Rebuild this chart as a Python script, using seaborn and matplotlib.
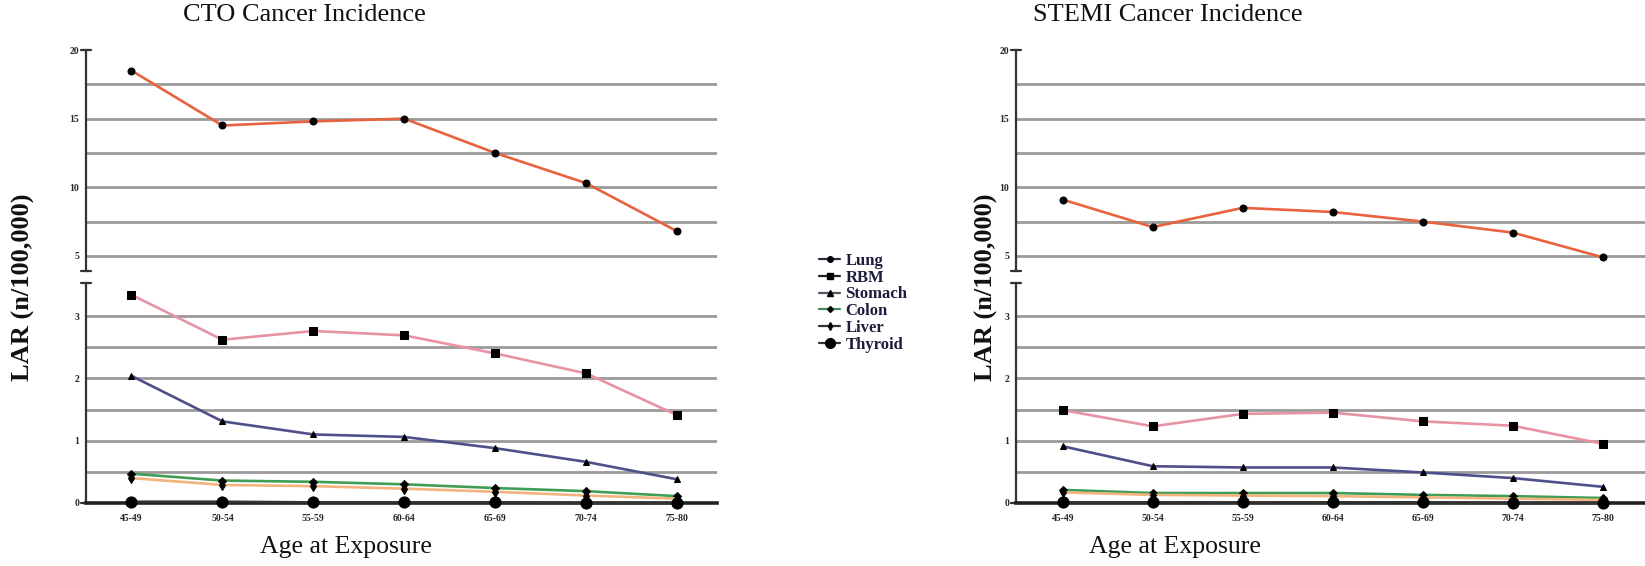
import numpy as np
import pandas as pd
import matplotlib
matplotlib.use("Agg")
import matplotlib.pyplot as plt
from matplotlib.lines import Line2D
import seaborn as sns

# age groups and organs
ages = ["45-49", "50-54", "55-59", "60-64", "65-69", "70-74", "75-80"]
organs = ["Lung", "RBM", "Stomach", "Colon", "Liver", "Thyroid"]

# CTO values (LAR per 100,000)
cto_lung = [18.5, 14.5, 14.8, 15.0, 12.5, 10.3, 6.8]
cto_rbm = [3.34, 2.62, 2.76, 2.69, 2.40, 2.08, 1.41]
cto_stomach = [2.04, 1.31, 1.10, 1.06, 0.88, 0.66, 0.38]
cto_colon = [0.47, 0.36, 0.34, 0.30, 0.24, 0.19, 0.11]
cto_liver = [0.40, 0.29, 0.27, 0.23, 0.18, 0.12, 0.07]
cto_thyroid = [0.02, 0.02, 0.01, 0.01, 0.01, 0.00, 0.00]

# STEMI values
stemi_lung = [9.1, 7.1, 8.5, 8.2, 7.5, 6.7, 4.9]
stemi_rbm = [1.49, 1.23, 1.43, 1.45, 1.31, 1.24, 0.95]
stemi_stomach = [0.91, 0.59, 0.57, 0.57, 0.49, 0.40, 0.26]
stemi_colon = [0.21, 0.16, 0.16, 0.16, 0.13, 0.11, 0.08]
stemi_liver = [0.17, 0.13, 0.12, 0.11, 0.09, 0.07, 0.05]
stemi_thyroid = [0.01, 0.01, 0.01, 0.01, 0.01, 0.00, 0.00]

colors = {"Lung": "#e8623e", "RBM": "#e793a4", "Stomach": "#4f4f8c",
          "Colon": "#3f9d55", "Liver": "#f2b47c", "Thyroid": "#333333"}
legend_colors = {"Lung": "#2a2a40", "RBM": "#222222", "Stomach": "#555566",
                 "Colon": "#3f8d55", "Liver": "#333333", "Thyroid": "#333333"}
markers = {"Lung": "o", "RBM": "s", "Stomach": "^", "Colon": "D", "Liver": "d", "Thyroid": "o"}
msizes = {"Lung": 5, "RBM": 6, "Stomach": 5, "Colon": 4, "Liver": 5, "Thyroid": 8}


def make_df(vals):
    rows = []
    for organ, v in zip(organs, vals):
        for a, y in zip(ages, v):
            rows.append({"age": a, "organ": organ, "lar": y})
    return pd.DataFrame(rows)


cto = make_df([cto_lung, cto_rbm, cto_stomach, cto_colon, cto_liver, cto_thyroid])
stemi = make_df([stemi_lung, stemi_rbm, stemi_stomach, stemi_colon, stemi_liver, stemi_thyroid])

sns.set_style("white")
plt.rcParams['font.family'] = ['Liberation Serif', 'DejaVu Serif']

W, H = 1645, 566
fig = plt.figure(figsize=(W / 100, H / 100), dpi=100)

grid_top = [5, 7.5, 10, 12.5, 15, 17.5]
grid_bot = [0.5, 1, 1.5, 2, 2.5, 3]


def panel(x0, x1, df, xlim):
    ax_t = fig.add_axes([x0 / W, 1 - 271 / H, (x1 - x0) / W, (271 - 50) / H])
    ax_b = fig.add_axes([x0 / W, 1 - 503 / H, (x1 - x0) / W, (503 - 283) / H])
    for g in grid_top:
        ax_t.axhline(g, color="#9a9a9a", lw=2.0, zorder=1)
    for g in grid_bot:
        ax_b.axhline(g, color="#9a9a9a", lw=2.0, zorder=1)

    for organ in organs:
        sub = df[df["organ"] == organ]
        ax = ax_t if organ == "Lung" else ax_b
        sns.lineplot(data=sub, x="age", y="lar", ax=ax, color=colors[organ],
                     marker=markers[organ], markersize=msizes[organ],
                     markerfacecolor="black", markeredgecolor="black",
                     linewidth=1.9, clip_on=False, zorder=3, legend=False)

    ax_t.set_ylim(3.9, 20)
    ax_b.set_ylim(0, 3.53)
    for ax in (ax_t, ax_b):
        ax.set_xlim(*xlim)
        ax.set_xlabel("")
        ax.set_ylabel("")
        for s in ("top", "right"):
            ax.spines[s].set_visible(False)
        ax.spines["left"].set_color("#333333")
        ax.spines["left"].set_linewidth(1.6)
        ax.tick_params(axis="y", direction="out", length=4, width=1.3,
                       color="#333333", labelsize=7, pad=1)
        # break caps at the spine ends
        ax.plot([-0.008, 0.008], [0, 0] if ax is ax_t else [1, 1],
                transform=ax.transAxes, color="#333333", lw=1.6, clip_on=False)
        ax.plot([-0.008, 0.008], [1, 1] if ax is ax_t else [0, 0],
                transform=ax.transAxes, color="#333333", lw=1.6, clip_on=False)

    ax_t.spines["bottom"].set_visible(False)
    ax_t.set_yticks([5, 10, 15, 20])
    ax_t.set_yticklabels(["5", "10", "15", "20"], fontweight="bold")
    ax_t.set_xticks([])
    ax_b.set_yticks([0, 1, 2, 3])
    ax_b.set_yticklabels(["0", "1", "2", "3"], fontweight="bold")
    ax_b.spines["bottom"].set_color("#222222")
    ax_b.spines["bottom"].set_linewidth(2.6)
    ax_b.tick_params(axis="x", length=0, labelsize=7, pad=8)
    for lab in ax_b.get_xticklabels():
        lab.set_fontweight("bold")
    return ax_t, ax_b


panel(86, 717, cto, (-0.5, 6.44))
panel(1016, 1645, stemi, (-0.52, 6.47))

txt = "#111111"
fig.text(304 / W, 1 - 15 / H, "CTO Cancer Incidence", ha="center", va="center",
         fontsize=19, color=txt)
fig.text(1168 / W, 1 - 15 / H, "STEMI Cancer Incidence", ha="center", va="center",
         fontsize=19, color=txt)
fig.text(346 / W, 1 - 547 / H, "Age at Exposure", ha="center", va="center",
         fontsize=18.5, color=txt)
fig.text(1175 / W, 1 - 547 / H, "Age at Exposure", ha="center", va="center",
         fontsize=18.5, color=txt)
fig.text(23 / W, 1 - 287 / H, "LAR (n/100,000)", ha="center", va="center",
         rotation=90, fontsize=19, fontweight="bold", color=txt)
fig.text(986 / W, 1 - 287 / H, "LAR (n/100,000)", ha="center", va="center",
         rotation=90, fontsize=19, fontweight="bold", color=txt)

handles = [Line2D([0], [0], color=legend_colors[o], lw=1.6, marker=markers[o],
                  markersize=msizes[o] - 1, markerfacecolor="black",
                  markeredgecolor="black") for o in organs]
leg = fig.legend(handles, organs, loc="upper left",
                 bbox_to_anchor=(812 / W, 1 - 246 / H), frameon=False,
                 handlelength=1.3, handletextpad=0.3, labelspacing=0.05,
                 borderaxespad=0, prop={"size": 12, "weight": "bold"})
for t in leg.get_texts():
    t.set_color("#1c1c3c")

fig.savefig("out.png", dpi=100)
